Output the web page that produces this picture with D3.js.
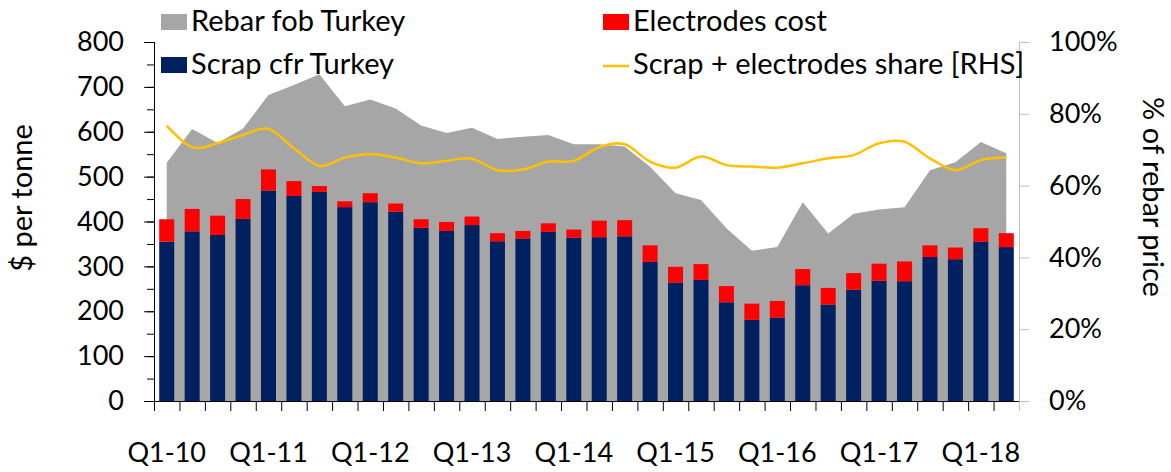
<!DOCTYPE html>
<html>
<head>
<meta charset="utf-8">
<script src="https://cdn.jsdelivr.net/npm/d3@7/dist/d3.min.js"></script>
<style>
    body { margin: 0; background: #ffffff; }
    text { font-family: Lato, "Open Sans", sans-serif; fill: #000000; }
</style>
</head>
<body>
<svg id="chart"></svg>
<script>

/* ----------SVG的宽度和高度---------- */

var WIDTH = 1171,
    HEIGHT = 472;

/* ----------数据---------- */

var quarters = [];
d3.range(10, 19).forEach(function(yr) {
    [1, 2, 3, 4].forEach(function(q) {
        if (yr == 18 && q > 2) return;
        quarters.push("Q" + q + "-" + yr);
    });
});

var rebar = [531, 606, 575, 607, 682, 704, 728, 657, 672, 652, 614, 597, 609, 584, 589, 593, 572,
             572, 567, 522, 463, 448, 385, 335, 343, 443, 373, 417, 427, 432, 514, 532, 577, 552];

var scrap = [355, 378, 370, 406, 469, 457, 466, 432, 443, 422, 386, 379, 392, 356, 362, 377, 364,
             365, 367, 310, 264, 270, 220, 181, 186, 258, 215, 248, 268, 267, 321, 316, 355, 343];

var electrodes = [50, 50, 43, 44, 47, 33, 13, 13, 20, 18, 19, 20, 19, 18, 17, 19, 18,
                  37, 36, 37, 35, 35, 36, 36, 37, 36, 37, 37, 38, 44, 26, 26, 30, 31];

var share = [76.7, 70.7, 71.8, 74.1, 75.8, 70.4, 65.5, 67.8, 68.8, 67.8, 66.2, 66.9, 67.5, 64.3, 64.5, 66.7, 66.9,
             70.7, 71.5, 66.7, 65.0, 68.1, 65.7, 65.3, 65.0, 66.2, 67.6, 68.5, 71.8, 72.2, 67.6, 64.3, 67.1, 67.8];

var leftTicks = [0, 100, 200, 300, 400, 500, 600, 700, 800],
    rightTicks = [0, 0.2, 0.4, 0.6, 0.8, 1];

/* ----------颜色---------- */

var rebarColor = "#a6a6a6",
    scrapColor = "#002060",
    electrodeColor = "#ff0000",
    shareColor = "#ffc000",
    rightAxisColor = "#bfbfbf";

var tickFont = "27px",
    labelFont = "29px";

/* ----------比例尺---------- */

var plotLeft = 154, plotRight = 1019, plotTop = 42, plotBottom = 401;

var x = d3.scaleBand()
    .domain(quarters)
    .range([plotLeft, plotRight])
    .paddingInner(0.41)
    .paddingOuter(0.205);

var xEdge = d3.scaleLinear()
    .domain([0, quarters.length])
    .range([plotLeft, plotRight]);

var y = d3.scaleLinear().domain([0, 800]).range([plotBottom, plotTop]);
var y2 = d3.scaleLinear().domain([0, 1]).range([plotBottom, plotTop]);

function cx(d, i) { return x(quarters[i]) + x.bandwidth() / 2; }

/* ----------SVG---------- */

var svg = d3.select("#chart")
    .attr("width", WIDTH)
    .attr("height", HEIGHT);

// 灰色面积 rebar
svg.append("path")
    .datum(rebar)
    .attr("fill", rebarColor)
    .attr("d", d3.area()
        .x(cx)
        .y0(y(0))
        .y1(function(d) { return y(d); }));

// scrap柱
svg.append("g").selectAll("rect")
    .data(scrap)
    .enter().append("rect")
    .attr("x", function(d, i) { return x(quarters[i]); })
    .attr("width", x.bandwidth())
    .attr("y", function(d) { return y(d); })
    .attr("height", function(d) { return y(0) - y(d); })
    .attr("fill", scrapColor);

// electrodes叠在上面
svg.append("g").selectAll("rect")
    .data(electrodes)
    .enter().append("rect")
    .attr("x", function(d, i) { return x(quarters[i]); })
    .attr("width", x.bandwidth())
    .attr("y", function(d, i) { return y(scrap[i] + d); })
    .attr("height", function(d) { return y(0) - y(d); })
    .attr("fill", electrodeColor);

// share曲线 (RHS)
svg.append("path")
    .datum(share)
    .attr("fill", "none")
    .attr("stroke", shareColor)
    .attr("stroke-width", 2.5)
    .attr("d", d3.line()
        .curve(d3.curveCatmullRom.alpha(0))
        .x(cx)
        .y(function(d) { return y2(d / 100); }));

/* ----------坐标轴---------- */

// 左轴 小刻度
svg.append("g")
    .attr("transform", "translate(" + plotLeft + ",0)")
    .call(d3.axisLeft(y).tickValues(d3.range(0, 801, 50)).tickSize(7).tickFormat(""))
    .call(function(g) { g.select(".domain").remove(); });

var yAxis = svg.append("g")
    .attr("transform", "translate(" + plotLeft + ",0)")
    .call(d3.axisLeft(y).tickValues(leftTicks).tickSize(10).tickPadding(20).tickSizeOuter(0));
yAxis.selectAll("text").style("font-size", tickFont).style("font-family", null);
yAxis.select(".domain").attr("d", "M0.5," + plotTop + "V" + (plotBottom + 10));

// 右轴
var y2Axis = svg.append("g")
    .attr("transform", "translate(" + plotRight + ",0)")
    .call(d3.axisRight(y2).tickValues(rightTicks).tickSize(10).tickPadding(20).tickSizeOuter(0)
        .tickFormat(d3.format(".0%")));
y2Axis.selectAll("line").attr("stroke", rightAxisColor);
y2Axis.select(".domain").attr("stroke", rightAxisColor);
y2Axis.selectAll("text").style("font-size", tickFont).style("font-family", null);

// 底轴 刻度
var xTicks = svg.append("g")
    .attr("transform", "translate(0," + plotBottom + ")")
    .call(d3.axisBottom(xEdge).tickValues(d3.range(0, quarters.length + 1)).tickSize(10).tickFormat(""));
xTicks.select(".domain").attr("d", "M" + plotLeft + ",0.5H" + plotRight);
xTicks.selectAll(".tick").filter(function(d) { return d == quarters.length; })
    .select("line").attr("stroke", rightAxisColor);

// 底轴 标签 (只显示Q1)
var xLabels = svg.append("g")
    .attr("transform", "translate(0," + plotBottom + ")")
    .call(d3.axisBottom(x)
        .tickValues(quarters.filter(function(q) { return q.indexOf("Q1") == 0; }))
        .tickSize(0).tickPadding(42));
xLabels.select(".domain").remove();
xLabels.selectAll("text").style("font-size", tickFont).style("font-family", null);

/* ----------轴标题---------- */

svg.append("text")
    .attr("transform", "translate(22,198) rotate(-90)")
    .attr("text-anchor", "middle")
    .attr("dy", "0.35em")
    .style("font-size", labelFont)
    .text("$ per tonne");

svg.append("text")
    .attr("transform", "translate(1153,197) rotate(90)")
    .attr("text-anchor", "middle")
    .attr("dy", "0.35em")
    .style("font-size", labelFont)
    .text("% of rebar price");

/* ----------图例---------- */

var legend = [
    {name: "Rebar fob Turkey", color: rebarColor, x: 161, y: 31, type: "rect"},
    {name: "Scrap cfr Turkey", color: scrapColor, x: 161, y: 74, type: "rect"},
    {name: "Electrodes cost", color: electrodeColor, x: 603, y: 31, type: "rect"},
    {name: "Scrap + electrodes share [RHS]", color: shareColor, x: 603, y: 74, type: "line"}
];

var items = svg.append("g").selectAll("g")
    .data(legend)
    .enter().append("g")
    .attr("transform", function(d) { return "translate(" + d.x + "," + d.y + ")"; });

items.filter(function(d) { return d.type == "rect"; })
    .append("rect")
    .attr("y", -17)
    .attr("width", 26)
    .attr("height", 16)
    .attr("fill", function(d) { return d.color; });

items.filter(function(d) { return d.type == "line"; })
    .append("line")
    .attr("x2", 26)
    .attr("y1", -8).attr("y2", -8)
    .attr("stroke", function(d) { return d.color; })
    .attr("stroke-width", 2.5);

items.append("text")
    .attr("x", 30)
    .style("font-size", labelFont)
    .text(function(d) { return d.name; });

</script>
</body>
</html>
